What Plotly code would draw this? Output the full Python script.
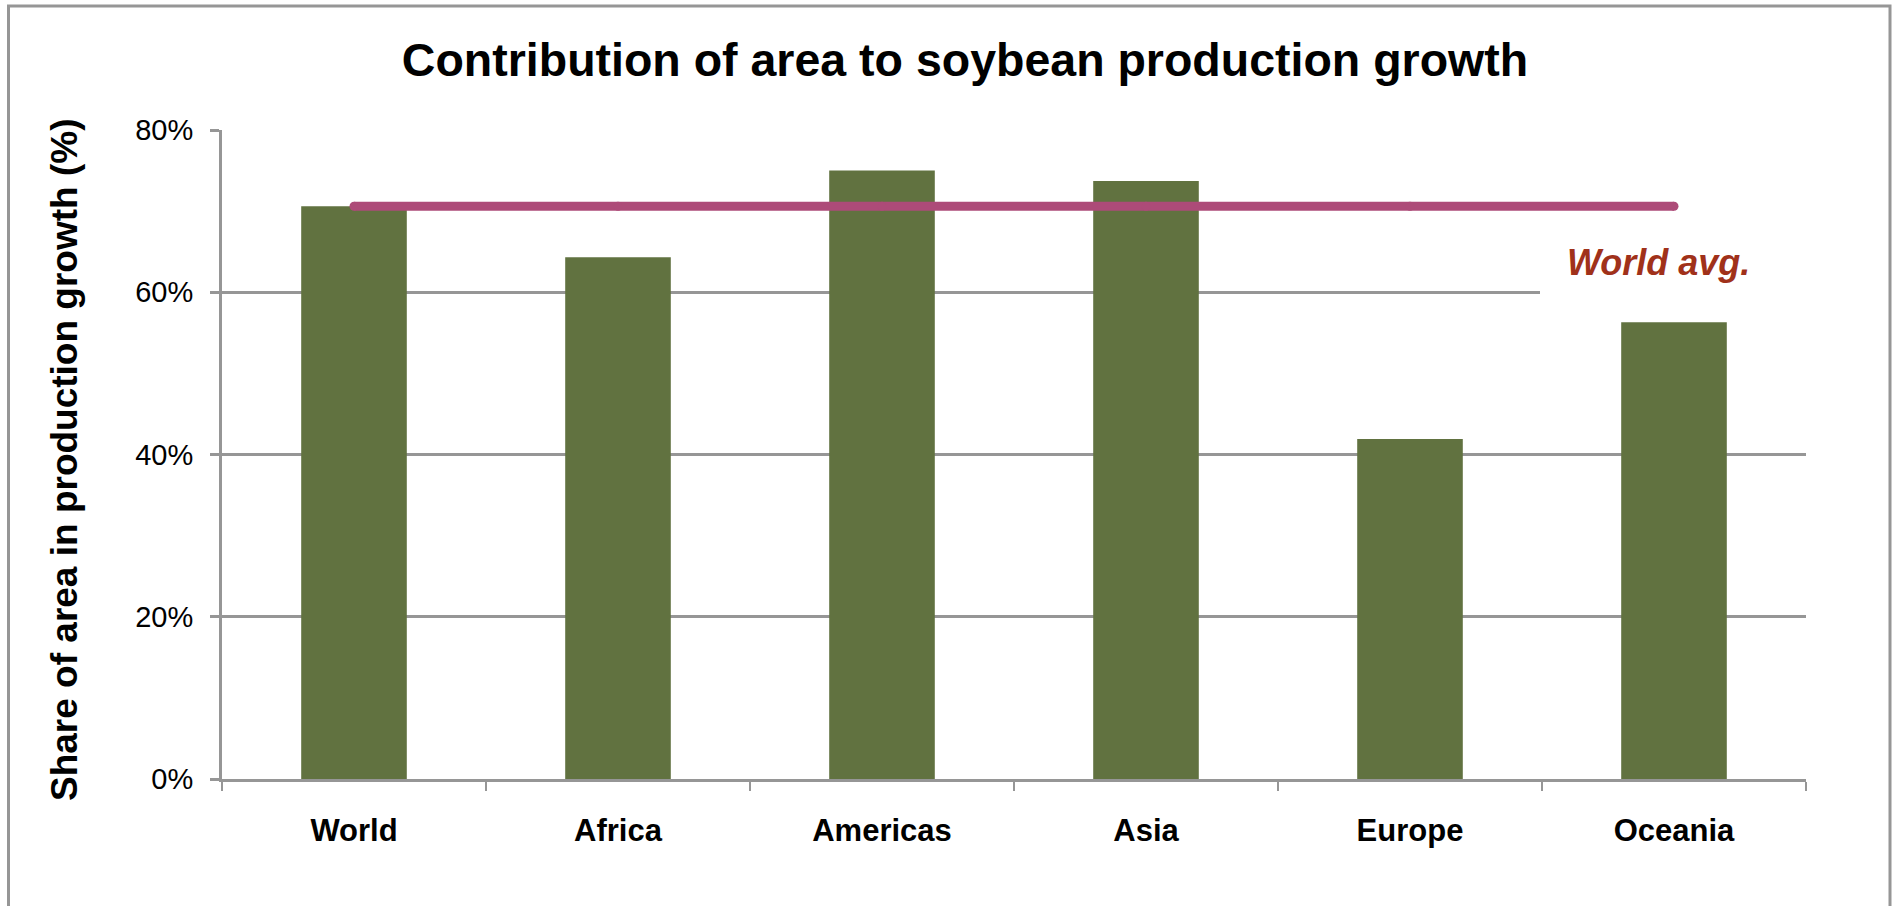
import plotly.graph_objects as go

# Share of harvested-area growth in soybean production growth, by region
regions = ["World", "Africa", "Americas", "Asia", "Europe", "Oceania"]
area_share = [70.6, 64.3, 75.0, 73.7, 41.9, 56.3]
world_avg = 70.6
y_ticks = [0, 20, 40, 60, 80]
y_tick_text = ["0%", "20%", "40%", "60%", "80%"]

W, H = 1892, 906
M_L, M_R, M_T, M_B = 222, 86, 130, 127
plot_w = W - M_L - M_R
plot_h = H - M_T - M_B

GRID = "#969696"
BAR = "#617240"
AVG = "#AD4B78"
FONT = "Liberation Sans, Arial, sans-serif"


def px_x(px):
    return (px - M_L) / plot_w


def px_y(py):
    return (H - M_B - py) / plot_h


fig = go.Figure()

fig.add_trace(go.Bar(
    x=regions, y=area_share,
    marker=dict(color=BAR, line=dict(width=0)),
    showlegend=False,
))

fig.add_trace(go.Scatter(
    x=regions, y=[world_avg] * len(regions),
    mode="lines+markers",
    line=dict(color=AVG, width=9),
    marker=dict(color=AVG, size=9),
    showlegend=False,
))

# white text box behind the average label (hides the 60% gridline)
fig.add_shape(
    type="rect", xref="paper", yref="y",
    x0=px_x(1540), x1=1.01, y0=57.5, y1=67.5,
    fillcolor="white", line=dict(width=0), layer="above",
)

# outer chart frame
fig.add_shape(
    type="rect", xref="paper", yref="paper",
    x0=px_x(8.5), x1=px_x(1890), y0=px_y(925), y1=px_y(6),
    line=dict(color=GRID, width=3), fillcolor="rgba(0,0,0,0)", layer="above",
)

fig.add_annotation(
    text="<b><i>World avg.</i></b>", xref="paper", yref="paper",
    x=px_x(1658), y=px_y(262), xanchor="center", yanchor="middle",
    showarrow=False, font=dict(family=FONT, size=36, color="#A0311A"),
)

fig.add_annotation(
    text="<b>Share of area in production growth (%)</b>", xref="paper", yref="paper",
    x=px_x(64), y=px_y(460), xanchor="center", yanchor="middle", textangle=-90,
    showarrow=False, font=dict(family=FONT, size=37, color="black"),
)

fig.update_layout(
    width=W, height=H,
    margin=dict(l=M_L, r=M_R, t=M_T, b=M_B, pad=0),
    paper_bgcolor="white", plot_bgcolor="white",
    bargap=0.6,
    title=dict(
        text="<b>Contribution of area to soybean production growth</b>",
        x=965 / W, xanchor="center", y=1 - 60 / H, yanchor="middle",
        font=dict(family=FONT, size=46.5, color="black"),
    ),
    font=dict(family=FONT, color="black"),
)

fig.update_xaxes(
    type="category", showgrid=False,
    showline=True, linecolor=GRID, linewidth=3,
    ticks="outside", tickson="boundaries", ticklen=9, tickwidth=2, tickcolor=GRID,
    tickfont=dict(family=FONT, size=31, color="black"),
    ticklabelstandoff=22,
    tickprefix="<b>", ticksuffix="</b>",
)

fig.update_yaxes(
    range=[0, 80], tickvals=y_ticks, ticktext=y_tick_text,
    showgrid=True, gridcolor=GRID, gridwidth=3,
    zeroline=False,
    showline=True, linecolor=GRID, linewidth=3,
    ticks="outside", ticklen=9, tickwidth=3, tickcolor=GRID,
    tickfont=dict(family=FONT, size=29, color="black"),
    ticklabelstandoff=11,
)

fig.write_html("out.html")
